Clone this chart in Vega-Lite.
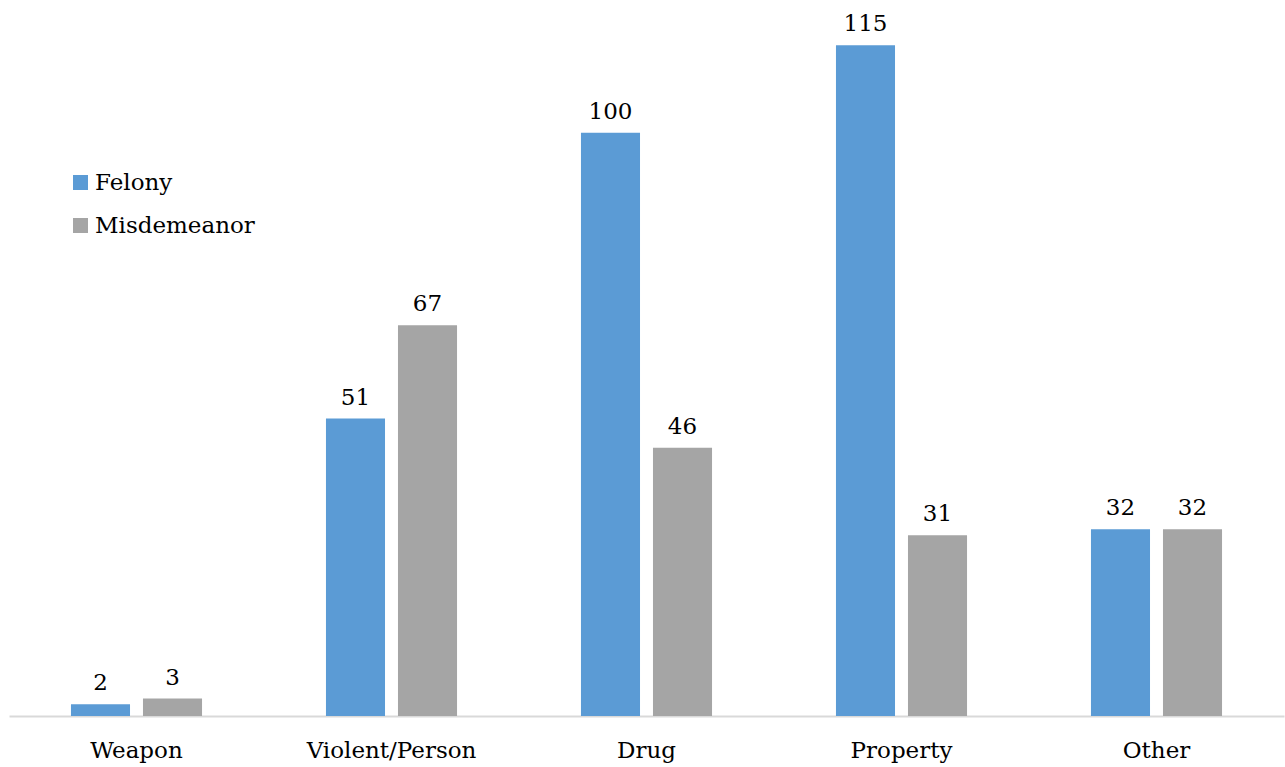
{
  "$schema": "https://vega.github.io/schema/vega-lite/v6.json",
  "autosize": "none",
  "width": 1275,
  "height": 700,
  "padding": {"left": 9, "top": 16, "right": 1, "bottom": 51},
  "background": "white",
  "config": {
    "view": {"stroke": null},
    "font": "DejaVu Serif",
    "text": {"font": "DejaVu Serif"}
  },
  "data": {
    "values": [
      {"category": "Weapon", "type": "Felony", "count": 2},
      {"category": "Weapon", "type": "Misdemeanor", "count": 3},
      {"category": "Violent/Person", "type": "Felony", "count": 51},
      {"category": "Violent/Person", "type": "Misdemeanor", "count": 67},
      {"category": "Drug", "type": "Felony", "count": 100},
      {"category": "Drug", "type": "Misdemeanor", "count": 46},
      {"category": "Property", "type": "Felony", "count": 115},
      {"category": "Property", "type": "Misdemeanor", "count": 31},
      {"category": "Other", "type": "Felony", "count": 32},
      {"category": "Other", "type": "Misdemeanor", "count": 32}
    ]
  },
  "encoding": {
    "x": {
      "field": "category",
      "type": "nominal",
      "sort": ["Weapon", "Violent/Person", "Drug", "Property", "Other"],
      "scale": {"paddingInner": 0.486, "paddingOuter": 0.243},
      "axis": {
        "title": null,
        "labelAngle": 0,
        "labelFont": "DejaVu Serif",
        "labelFontSize": 23,
        "labelColor": "#000000",
        "labelBaseline": "alphabetic",
        "labelPadding": 41,
        "labelLimit": 400,
        "ticks": false,
        "tickSize": 0,
        "domainColor": "#d9d9d9",
        "domainWidth": 2,
        "grid": false
      }
    },
    "xOffset": {
      "field": "type",
      "type": "nominal",
      "sort": ["Felony", "Misdemeanor"],
      "scale": {"paddingInner": 0.18, "paddingOuter": 0}
    },
    "y": {
      "field": "count",
      "type": "quantitative",
      "scale": {"domain": [0, 120], "nice": false},
      "axis": null
    }
  },
  "layer": [
    {
      "mark": {"type": "bar"},
      "encoding": {
        "color": {
          "field": "type",
          "type": "nominal",
          "sort": ["Felony", "Misdemeanor"],
          "scale": {"domain": ["Felony", "Misdemeanor"], "range": ["#5b9bd5", "#a5a5a5"]},
          "legend": {
            "title": null,
            "orient": "none",
            "legendX": 60,
            "legendY": 155,
            "padding": 0,
            "symbolType": "square",
            "symbolSize": 225,
            "symbolStrokeWidth": 0,
            "labelFont": "DejaVu Serif",
            "labelFontSize": 23,
            "labelColor": "#000000",
            "labelOffset": 3,
            "labelLimit": 400,
            "rowPadding": 19
          }
        }
      }
    },
    {
      "mark": {
        "type": "text",
        "baseline": "alphabetic",
        "dy": -14,
        "font": "DejaVu Serif",
        "fontSize": 23,
        "color": "#000000"
      },
      "encoding": {
        "text": {"field": "count", "type": "quantitative"}
      }
    }
  ]
}
